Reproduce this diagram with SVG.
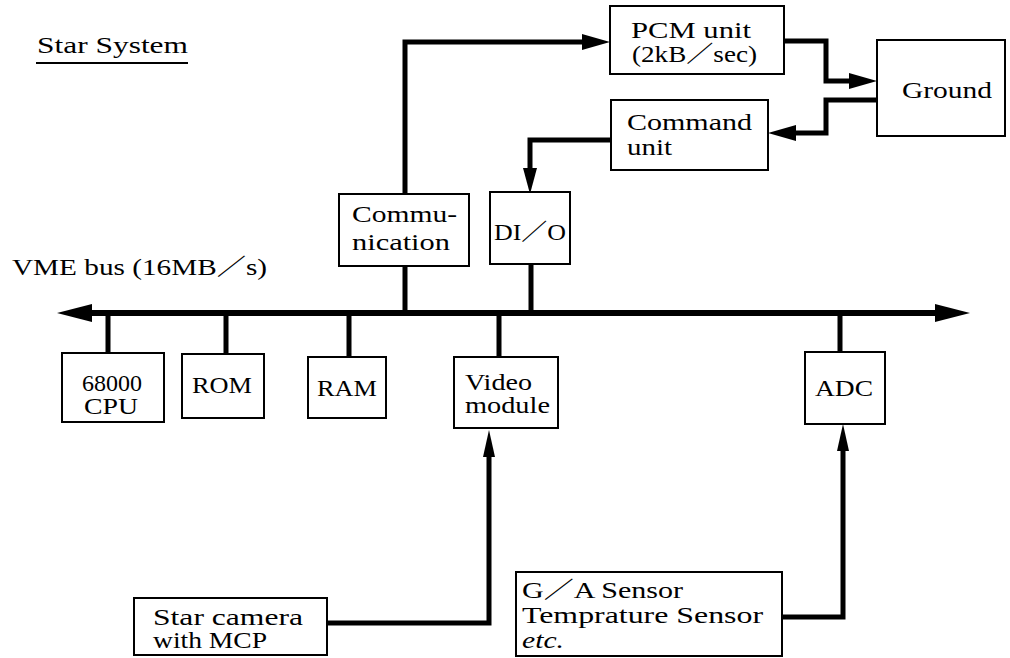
<svg xmlns="http://www.w3.org/2000/svg" width="1010" height="658" viewBox="0 0 1010 658">
<style>
  .box { fill: #fff; stroke: #000; stroke-width: 2; }
  .t { font-family: "Liberation Serif", "Noto Sans CJK JP", serif; font-size: 23px; fill: #000; }
  .ln { fill: none; stroke: #000; stroke-width: 5; stroke-linejoin: miter; }
  .bus { fill: none; stroke: #000; stroke-width: 6; }
  .hd { fill: #000; stroke: none; }
</style>
<rect width="1010" height="658" fill="#fff"/>

<g id="title">
  <text class="t" x="37" y="53" font-size="24" textLength="151" lengthAdjust="spacingAndGlyphs">Star System</text>
  <line x1="36" y1="63" x2="188" y2="63" stroke="#000" stroke-width="2"/>
</g>
<g id="bus-label">
  <text class="t" x="12" y="275" textLength="255" lengthAdjust="spacingAndGlyphs">VME bus (16MB／s)</text>
</g>

<g id="connectors">
  <path class="bus" d="M88,313 H940"/>
  <polygon class="hd" points="57,313 92,304 92,322"/>
  <polygon class="hd" points="970,313 935,304 935,322"/>
  <path class="ln" d="M405,196 V42 H584"/>
  <polygon class="hd" points="610,42 582,34 582,50"/>
  <path class="ln" d="M784,41 H826 V81 H852"/>
  <polygon class="hd" points="877,81 849,73 849,89"/>
  <path class="ln" d="M877,100 H826 V133 H795"/>
  <polygon class="hd" points="768,133 796,125 796,141"/>
  <path class="ln" d="M611,140 H530 V170"/>
  <polygon class="hd" points="530,194 523,168 537,168"/>
  <path class="ln" d="M405,266 V313 M531,264 V313 M108,313 V353 M226,313 V354 M349,313 V357 M499,313 V357 M840,313 V352"/>
  <path class="ln" d="M327,623 H489 V455"/>
  <polygon class="hd" points="489,430 483,457 495,457"/>
  <path class="ln" d="M782,617 H843 V449"/>
  <polygon class="hd" points="843,424 837,451 849,451"/>
</g>

<g id="pcm">
  <rect class="box" x="610" y="6" width="174" height="68"/>
  <text class="t" x="631" y="38" textLength="120" lengthAdjust="spacingAndGlyphs">PCM unit</text>
  <text class="t" x="632" y="62" textLength="125" lengthAdjust="spacingAndGlyphs">(2kB／sec)</text>
</g>
<g id="ground">
  <rect class="box" x="877" y="40" width="128" height="96"/>
  <text class="t" x="902" y="98" textLength="90" lengthAdjust="spacingAndGlyphs">Ground</text>
</g>
<g id="command">
  <rect class="box" x="611" y="100" width="157" height="70"/>
  <text class="t" x="627" y="130" textLength="125" lengthAdjust="spacingAndGlyphs">Command</text>
  <text class="t" x="627" y="155" textLength="45" lengthAdjust="spacingAndGlyphs">unit</text>
</g>
<g id="communication">
  <rect class="box" x="339" y="194" width="130" height="72"/>
  <text class="t" x="352" y="222" textLength="105" lengthAdjust="spacingAndGlyphs">Commu-</text>
  <text class="t" x="352" y="250" textLength="98" lengthAdjust="spacingAndGlyphs">nication</text>
</g>
<g id="dio">
  <rect class="box" x="490" y="192" width="80" height="72"/>
  <text class="t" x="494" y="240" textLength="72" lengthAdjust="spacingAndGlyphs">DI／O</text>
</g>
<g id="cpu">
  <rect class="box" x="62" y="353" width="102" height="69"/>
  <text class="t" x="82" y="391" textLength="60" lengthAdjust="spacingAndGlyphs">68000</text>
  <text class="t" x="84" y="414" textLength="54" lengthAdjust="spacingAndGlyphs">CPU</text>
</g>
<g id="rom">
  <rect class="box" x="182" y="354" width="82" height="64"/>
  <text class="t" x="192" y="393" textLength="60" lengthAdjust="spacingAndGlyphs">ROM</text>
</g>
<g id="ram">
  <rect class="box" x="308" y="357" width="78" height="61"/>
  <text class="t" x="317" y="396" textLength="60" lengthAdjust="spacingAndGlyphs">RAM</text>
</g>
<g id="video">
  <rect class="box" x="454" y="357" width="104" height="71"/>
  <text class="t" x="465" y="390" textLength="67" lengthAdjust="spacingAndGlyphs">Video</text>
  <text class="t" x="465" y="413" textLength="85" lengthAdjust="spacingAndGlyphs">module</text>
</g>
<g id="adc">
  <rect class="box" x="805" y="352" width="80" height="72"/>
  <text class="t" x="815" y="396" textLength="58" lengthAdjust="spacingAndGlyphs">ADC</text>
</g>
<g id="camera">
  <rect class="box" x="134" y="598" width="193" height="57"/>
  <text class="t" x="153" y="625" textLength="150" lengthAdjust="spacingAndGlyphs">Star camera</text>
  <text class="t" x="153" y="648" textLength="114" lengthAdjust="spacingAndGlyphs">with MCP</text>
</g>
<g id="sensors">
  <rect class="box" x="516" y="572" width="266" height="84"/>
  <text class="t" x="522" y="598" textLength="161" lengthAdjust="spacingAndGlyphs">G／A Sensor</text>
  <text class="t" x="522" y="623" textLength="241" lengthAdjust="spacingAndGlyphs">Temprature Sensor</text>
  <text class="t" x="522" y="648" font-style="italic" textLength="42" lengthAdjust="spacingAndGlyphs">etc.</text>
</g>
</svg>
